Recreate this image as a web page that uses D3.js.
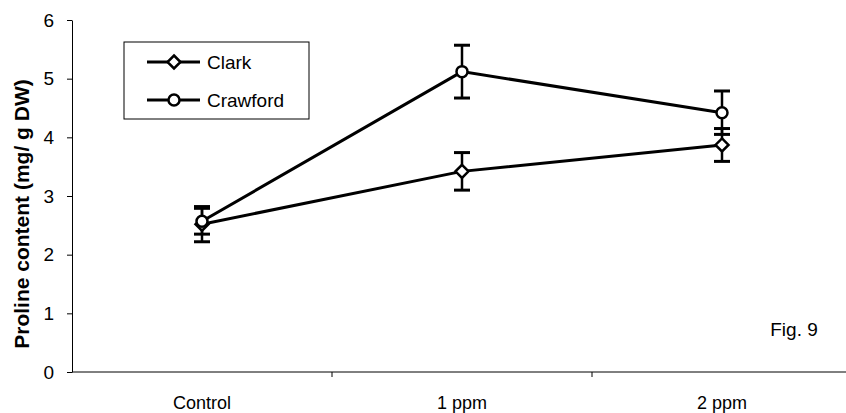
<!DOCTYPE html>
<html>
<head>
<meta charset="utf-8">
<script src="https://cdn.jsdelivr.net/npm/d3@7"></script>
<style>
  body { margin: 0; background: #fff; }
  svg { display: block; font-family: "Liberation Sans", Arial, sans-serif; }
</style>
</head>
<body>
<div id="chart"></div>
<script>
const categories = ['Control', '1 ppm', '2 ppm'];
const clarkValues = [2.52, 3.42, 3.87];
const clarkErrors = [0.3, 0.32, 0.28];
const crawfordValues = [2.57, 5.12, 4.42];
const crawfordErrors = [0.22, 0.45, 0.37];
const yTicks = [0, 1, 2, 3, 4, 5, 6];

const series = [
  { name: 'Clark', values: clarkValues, errors: clarkErrors, marker: 'diamond' },
  { name: 'Crawford', values: crawfordValues, errors: crawfordErrors, marker: 'circle' }
];

const width = 846;
const height = 413;
const plotLeft = 72, plotRight = 852, plotTop = 20, plotBottom = 372;

const svg = d3.select('#chart')
  .append('svg')
  .attr('width', width)
  .attr('height', height);

const x = d3.scaleBand().domain(categories).range([plotLeft, plotRight]);
const y = d3.scaleLinear().domain([0, 6]).range([plotBottom, plotTop]);

// y axis
const yAxis = svg.append('g')
  .attr('transform', `translate(${plotLeft},0)`)
  .call(d3.axisLeft(y).tickValues(yTicks).tickSize(5).tickSizeOuter(0).tickPadding(13).tickFormat(d3.format('d')));
yAxis.select('.domain').attr('stroke', '#000').attr('stroke-width', 1);
yAxis.selectAll('.tick line').attr('stroke', '#000');
yAxis.selectAll('.tick text').style('font-size', '19px').attr('fill', '#000');

// x axis: ticks at category boundaries
svg.append('line')
  .attr('x1', plotLeft).attr('x2', width)
  .attr('y1', plotBottom).attr('y2', plotBottom)
  .attr('stroke', '#000').attr('stroke-width', 1);
const boundaries = categories.map((c) => x(c)).slice(1);
svg.selectAll('.xtick')
  .data(boundaries)
  .enter()
  .append('line')
  .attr('class', 'xtick')
  .attr('x1', (d) => d).attr('x2', (d) => d)
  .attr('y1', plotBottom).attr('y2', plotBottom + 5)
  .attr('stroke', '#000');
svg.selectAll('.xlabel')
  .data(categories)
  .enter()
  .append('text')
  .attr('class', 'xlabel')
  .attr('x', (d) => x(d) + x.bandwidth() / 2)
  .attr('y', 409)
  .attr('text-anchor', 'middle')
  .style('font-size', '18px')
  .text((d) => d);

// y title
svg.append('text')
  .attr('transform', `translate(29,${(plotTop + plotBottom) / 2 + 18}) rotate(-90)`)
  .attr('text-anchor', 'middle')
  .style('font-size', '21px')
  .style('font-weight', 'bold')
  .text('Proline content (mg/ g DW)');

const cx = (i) => x(categories[i]) + x.bandwidth() / 2;

const line = d3.line()
  .x((d, i) => cx(i))
  .y((d) => y(d));

const diamond = (px, py, r) => `M${px},${py - r}L${px + r},${py}L${px},${py + r}L${px - r},${py}Z`;

series.forEach((s) => {
  svg.append('path')
    .datum(s.values)
    .attr('d', line)
    .attr('fill', 'none')
    .attr('stroke', '#000')
    .attr('stroke-width', 3);

  // error bars
  const eb = svg.append('g');
  s.values.forEach((v, i) => {
    const e = s.errors[i];
    eb.append('line')
      .attr('x1', cx(i)).attr('x2', cx(i))
      .attr('y1', y(v - e)).attr('y2', y(v + e))
      .attr('stroke', '#000').attr('stroke-width', 2.5);
    [v - e, v + e].forEach((t) => {
      eb.append('line')
        .attr('x1', cx(i) - 8).attr('x2', cx(i) + 8)
        .attr('y1', y(t)).attr('y2', y(t))
        .attr('stroke', '#000').attr('stroke-width', 3);
    });
  });
});

// markers drawn on top
series.forEach((s) => {
  s.values.forEach((v, i) => {
    if (s.marker === 'circle') {
      svg.append('circle')
        .attr('cx', cx(i)).attr('cy', y(v)).attr('r', 5.5)
        .attr('fill', '#fff').attr('stroke', '#000').attr('stroke-width', 2.5);
    } else {
      svg.append('path')
        .attr('d', diamond(cx(i), y(v), 6.5))
        .attr('fill', '#fff').attr('stroke', '#000').attr('stroke-width', 2.5);
    }
  });
});

// legend
const legend = svg.append('g');
legend.append('rect')
  .attr('x', 124).attr('y', 42)
  .attr('width', 185).attr('height', 77)
  .attr('fill', '#fff').attr('stroke', '#000').attr('stroke-width', 1);
series.forEach((s, i) => {
  const ly = 62 + i * 38;
  legend.append('line')
    .attr('x1', 147).attr('x2', 200)
    .attr('y1', ly).attr('y2', ly)
    .attr('stroke', '#000').attr('stroke-width', 3);
  if (s.marker === 'circle') {
    legend.append('circle')
      .attr('cx', 174).attr('cy', ly).attr('r', 5.5)
      .attr('fill', '#fff').attr('stroke', '#000').attr('stroke-width', 2.5);
  } else {
    legend.append('path')
      .attr('d', diamond(174, ly, 6.5))
      .attr('fill', '#fff').attr('stroke', '#000').attr('stroke-width', 2.5);
  }
  legend.append('text')
    .attr('x', 207).attr('y', ly + 7)
    .style('font-size', '19px')
    .text(s.name);
});

svg.append('text')
  .attr('x', 794).attr('y', 336)
  .attr('text-anchor', 'middle')
  .style('font-size', '19px')
  .text('Fig. 9');
</script>
</body>
</html>
